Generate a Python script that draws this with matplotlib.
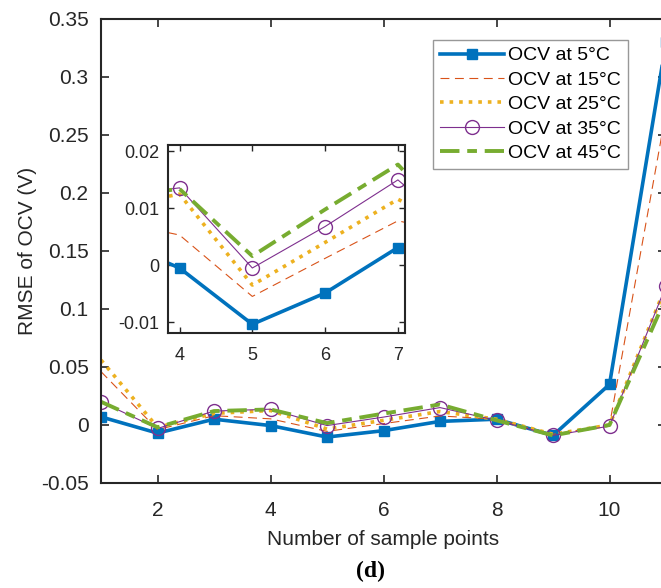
import matplotlib.pyplot as plt
import numpy as np

plt.rcParams['font.family'] = ['Liberation Sans', 'DejaVu Sans']

# Number of sample points
x = [1, 2, 3, 4, 5, 6, 7, 8, 9, 10, 11]
labels = ['OCV at 5\u00b0C', 'OCV at 15\u00b0C', 'OCV at 25\u00b0C', 'OCV at 35\u00b0C', 'OCV at 45\u00b0C']

# RMSE of OCV (V)
ocv_5 = [0.007, -0.007, 0.005, -0.0005, -0.0104, -0.0049, 0.0031, 0.005, -0.009, 0.035, 0.330]
ocv_15 = [0.046, -0.004, 0.008, 0.0053, -0.0055, 0.0012, 0.0078, 0.005, -0.008, 0.0, 0.270]
ocv_25 = [0.056, -0.002, 0.010, 0.0125, -0.0035, 0.0040, 0.0116, 0.005, -0.008, 0.0, 0.120]
ocv_35 = [0.020, -0.003, 0.012, 0.0136, -0.0005, 0.0068, 0.0150, 0.004, -0.009, -0.001, 0.120]
ocv_45 = [0.020, -0.002, 0.012, 0.0134, 0.0016, 0.0098, 0.0177, 0.004, -0.009, 0.0, 0.110]

series = [ocv_5, ocv_15, ocv_25, ocv_35, ocv_45]
styles = [
    dict(color='#0072BD', lw=2.6, marker='s', ms=7.5, mfc='#0072BD', mec='#0072BD'),
    dict(color='#D95319', lw=0.8, dashes=(8, 5)),
    dict(color='#EDB120', lw=2.6, linestyle=':'),
    dict(color='#7E2F8E', lw=0.8, marker='o', ms=10, mfc='none', mec='#7E2F8E'),
    dict(color='#77AC30', lw=2.8, dashes=(5, 2, 2.5, 2)),
]

fig = plt.figure(figsize=(6.61, 5.88), dpi=100)
ax = fig.add_axes([0.1528, 0.1786, 0.8548, 0.7891])

for y, lab, st in zip(series, labels, styles):
    ax.plot(x, y, label=lab, **st)

ax.set_xlim(1, 11)
ax.set_ylim(-0.05, 0.35)
ax.set_xticks([2, 4, 6, 8, 10])
ax.set_yticks(np.arange(-0.05, 0.351, 0.05))
ax.set_yticklabels(['-0.05', '0', '0.05', '0.1', '0.15', '0.2', '0.25', '0.3', '0.35'])
ax.tick_params(direction='in', top=True, right=True, labelsize=15, colors='#262626',
               length=6, width=1.2)
ax.tick_params(axis='y', pad=9)
ax.tick_params(axis='x', pad=13)
for sp in ax.spines.values():
    sp.set_linewidth(1.5)
    sp.set_color('#262626')
ax.set_xlabel('Number of sample points', fontsize=15, color='#262626', labelpad=7)
ax.set_ylabel('RMSE of OCV (V)', fontsize=15, color='#262626', labelpad=3)

leg = ax.legend(loc='upper right', bbox_to_anchor=(0.950, 0.932), bbox_transform=fig.transFigure,
                fontsize=14, frameon=True, fancybox=False, handlelength=3.3,
                handletextpad=0.2, borderpad=0.35, labelspacing=0.35, borderaxespad=0)
leg.get_frame().set_edgecolor('#7f7f7f')
leg.get_frame().set_linewidth(1.0)

# inset
axi = fig.add_axes([0.254, 0.434, 0.359, 0.320])
for y, st in zip(series, styles):
    axi.plot(x, y, **st)
axi.set_xlim(3.84, 7.1)
axi.set_ylim(-0.0119, 0.0212)
axi.set_xticks([4, 5, 6, 7])
axi.set_yticks([-0.01, 0, 0.01, 0.02])
axi.set_yticklabels(['-0.01', '0', '0.01', '0.02'])
axi.tick_params(direction='in', top=True, right=True, labelsize=13, colors='#262626',
                length=4, width=1.0)
axi.tick_params(axis='y', pad=6)
axi.tick_params(axis='x', pad=10)
for sp in axi.spines.values():
    sp.set_linewidth(1.5)
    sp.set_color('#262626')

fig.text(0.560, 0.018, '(d)', fontsize=17, fontweight='bold', family='Liberation Serif', ha='center')

plt.savefig('out.png', dpi=100)
